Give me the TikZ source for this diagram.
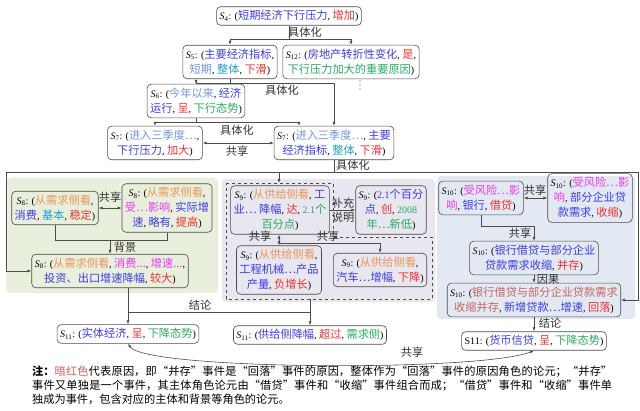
\documentclass[tikz,border=0pt]{standalone}
\usepackage{fontspec}
\setmainfont{Liberation Serif}
\newfontfamily\cjk[Scale=1.12]{Noto Sans CJK SC}
\usepackage{xcolor}
\usepackage{tikz}
\usetikzlibrary{arrows.meta}

\definecolor{evblue}{RGB}{60,60,235}
\definecolor{evlblue}{RGB}{110,150,225}
\definecolor{evcyan}{RGB}{30,160,200}
\definecolor{evgreen}{RGB}{40,170,100}
\definecolor{evred}{RGB}{240,50,50}
\definecolor{evorange}{RGB}{235,150,90}
\definecolor{evpink}{RGB}{235,60,235}
\definecolor{evdred}{RGB}{200,100,100}
\definecolor{bggreen}{RGB}{233,239,221}
\definecolor{bggray}{RGB}{232,230,238}
\definecolor{bgblue}{RGB}{227,233,242}
\definecolor{edge}{RGB}{75,75,75}

\newcommand{\sid}[1]{\textit{S}\textsubscript{#1}: (}
\newcommand{\dig}[1]{{\rmfamily #1}}
\newcommand{\tblue}[1]{{\cjk\color{evblue}#1}}
\newcommand{\tlblue}[1]{{\cjk\color{evlblue}#1}}
\newcommand{\tcyan}[1]{{\cjk\color{evcyan}#1}}
\newcommand{\tgreen}[1]{{\cjk\color{evgreen}#1}}
\newcommand{\tred}[1]{{\cjk\color{evred}#1}}
\newcommand{\torange}[1]{{\cjk\color{evorange}#1}}
\newcommand{\tpink}[1]{{\cjk\color{evpink}#1}}
\newcommand{\tdred}[1]{{\cjk\color{evdred}#1}}

\tikzset{
  >={Latex[length=4pt,width=3pt]},
  evt/.style={draw=edge, line width=0.6pt, rounded corners=4pt, align=center,
    inner xsep=3pt, inner ysep=3.5pt, font=\fontsize{10}{15}\selectfont},
  lbl/.style={inner sep=1pt, text=black!80, font=\fontsize{10}{14}\selectfont\cjk},
  line/.style={draw=edge, line width=0.6pt},
  note/.style={inner sep=0pt, text width=580pt, align=justify,
    font=\fontsize{10}{14}\selectfont\cjk}
}

\begin{document}
\begin{tikzpicture}[x=1pt,y=-1pt]
        \useasboundingbox (0,0) rectangle (640,411);
        % groups
        \fill[bggreen, rounded corners=4pt] (6,178) rectangle (218,293);
        \fill[bggray, rounded corners=4pt] (222,179) rectangle (435,302);
        \fill[bgblue, rounded corners=4pt] (437,176) rectangle (635,319);
        \draw[line, dashed] (226,183) -- (333,183) -- (333,237) -- (432,237)
            -- (432,299) -- (226,299) -- cycle;
        \coordinate (g9n) at (279,183);
        \coordinate (g9s) at (310,299);

        % S4 - S7
        \node[evt] (s4) at (289,16) {\sid{4}\tblue{短期经济下行压力}, \tred{增加})};
        \node[evt] (s5) at (230,62) {\sid{5}\tblue{主要经济指标},\\\tlblue{短期}, \tcyan{整体}, \tred{下滑})};
        \node[evt] (s12) at (351,62) {\sid{12}\tblue{房地产转折性变化}, \tred{是},\\\tgreen{下行压力加大的重要原因})};
        \foreach \y in {81,85,89}
            \fill[black!70] (360,\y) circle (0.6pt);
        \node[evt] (s6) at (196,101) {\sid{6}\tlblue{今年以来}, \tblue{经济}\\\tblue{运行}, \tred{呈}, \tgreen{下行态势})};
        \node[evt] (s7a) at (155,143) {\sid{7}\tlblue{进入三季度…},\\\tblue{下行压力}, \tred{加大})};
        \node[evt] (s7b) at (334,143) {\sid{7}\tlblue{进入三季度…}, \tblue{主要}\\\tblue{经济指标}, \tcyan{整体}, \tred{下滑})};

        % S8
        \node[evt] (s8a) at (55,208) {\sid{8}\torange{从需求侧看},\\\tblue{消费}, \tcyan{基本}, \tred{稳定})};
        \node[evt] (s8b) at (167,208) {\sid{8}\torange{从需求侧看},\\\tpink{受…影响}, \tblue{实际增}\\\tblue{速}, \tblue{略有}, \tred{提高})};
        \node[evt] (s8c) at (110,271) {\sid{8}\torange{从需求侧看}, \tpink{消费...}, \tpink{增速...},\\\tblue{投资、出口增速降幅}, \tred{较大})};

        % S9
        \node[evt] (s9a) at (280,210) {\sid{9}\torange{从供给侧看}, \tblue{工}\\\tblue{业… 降幅}, \tred{达}, \tgreen{\dig{2.1}个}\\\tgreen{百分点})};
        \node[evt] (s9b) at (391,210) {\sid{9}\tblue{\dig{2.1}个百分}\\\tblue{点}, \tred{创}, \tgreen{\dig{2008}}\\\tgreen{年…新低})};
        \node[evt] (s9c) at (279,270) {\sid{9}\torange{从供给侧看},\\\tblue{工程机械…产品}\\\tblue{产量}, \tred{负增长})};
        \node[evt] (s9d) at (380,270) {\sid{9}\torange{从供给侧看},\\\tblue{汽车…增幅}, \tred{下降})};

        % S10
        \node[evt] (s10a) at (481,198) {\sid{10}\tpink{受风险…影}\\\tpink{响}, \tblue{银行}, \tred{借贷})};
        \node[evt] (s10b) at (590,198) {\sid{10}\tpink{受风险…影}\\\tpink{响}, \tblue{部分企业贷}\\\tblue{款需求}, \tred{收缩})};
        \node[evt] (s10c) at (534,258) {\sid{10}\tblue{银行借贷与部分企业}\\\tblue{贷款需求收缩}, \tred{并存})};
        \node[evt] (s10d) at (534,300) {\sid{10}\tdred{银行借贷与部分企业贷款需求}\\\tdred{收缩并存}, \tblue{新增贷款…增速}, \tred{回落})};

        % S11
        \node[evt] (s11a) at (128,334) {\sid{11}\tblue{实体经济}, \tred{呈}, \tgreen{下降态势})};
        \node[evt] (s11b) at (310,335) {\sid{11}\tblue{供给侧降幅}, \tred{超过}, \tgreen{需求侧})};
        \node[evt] (s11c) at (534,341) {S11: (\tblue{货币信贷}, \tred{呈}, \tgreen{下降态势})};

        % links
        \draw[line] (s4) -- (289,39) coordinate (j4);
        \draw[line,->] (j4) -| (s5);
        \draw[line,->] (j4) -| (s12);
        \node[lbl] (l4) at (305,32) {具体化};
        \draw[line] (s5) -- (230,83) coordinate (j5);
        \draw[line,->] (j5) -| (s6);
        \draw[line,->] (j5) -| (s7b);
        \node[lbl] (l5) at (282,90) {具体化};
        \draw[line] (s6) -- (196,122) coordinate (j6);
        \draw[line,->] (j6) -| (s7a);
        \draw[line,->] (j6) -| ([xshift=-35pt]s7b.north);
        \node[lbl] (l6) at (237,130) {具体化};
        \draw[line,<->] (s7a) -- (s7a -| s7b.west);
        \node[lbl] (l7) at (237,151) {共享};

        \coordinate (fl) at (6,172);
        \coordinate (fr) at (638,172);
        \draw[line] (s7b) -- (s7b |- fl);
        \node[lbl] (l7b) at (353,165) {具体化};
        \draw[line] (fl) -- (fr);
        \draw[line,->] (fl) |- (s8c);
        \draw[line,->] (fr) |- (s10d);
        \draw[line,->] (g9n |- fl) -- (g9n);

        \draw[line,<->] (s8a) -- (s8a -| s8b.west);
        \node[lbl] (l8) at (110,197) {共享};
        \coordinate (j8) at (110,240);
        \draw[line] (s8a) |- (j8);
        \draw[line] (s8b) |- (j8);
        \draw[line,->] (j8) -- (s8c);
        \node[lbl] (l8b) at (125,247) {背景};

        \draw[line,->] (s9a) -- (s9b);
        \node[lbl, align=center] (l9) at (343,210) {补充\\说明};
        \draw[line,<->] (s9a.south -| s9c) -- (s9c);
        \node[lbl] (l9b) at (260,236) {共享};
        \coordinate (j9) at (279,243);
        \draw[line,->] (j9) -| (s9d);
        \node[lbl] (l9c) at (328,236) {共享};

        \draw[line,<->] (s10a) -- (s10a -| s10b.west);
        \node[lbl] (l10) at (535,190) {共享};
        \draw[line,->] (s10a) |- (534,226) -- (s10c);
        \node[lbl] (l10b) at (520,233) {共享};
        \draw[line,->] (s10c) -- (s10d);
        \node[lbl] (l10c) at (548,279) {因果};
        \draw[line,->] (s10d) -- (s11c);
        \node[lbl] (l10d) at (550,323) {结论};

        \draw[line,->] (s8c.south -| s11a) -- (s11a);
        \coordinate (j11) at (128,312);
        \draw[line] (j11) -| (g9s);
        \draw[line,->] (g9s) -- (s11b);
        \node[lbl] (l11) at (200,305) {结论};
        \draw[line,<->] (s11a.south) .. controls (145,370) and (480,372) .. (s11c.south);
        \node[lbl] (l11b) at (412,352) {共享};

        % note
        \node[note, anchor=north west] (note) at (32,366) {\XeTeXlinebreaklocale "zh"\XeTeXlinebreakskip=0pt plus 1pt
            {\bfseries 注：}{\color{evdred}暗红色}代表原因，即“并存”事件是“回落”事件的原因，整体作为“回落”事件的原因角色的论元；“并存”\linebreak
            事件又单独是一个事件，其主体角色论元由“借贷”事件和“收缩”事件组合而成；“借贷”事件和“收缩”事件单\linebreak
            独成为事件，包含对应的主体和背景等角色的论元。};
    \end{tikzpicture}
\end{document}
